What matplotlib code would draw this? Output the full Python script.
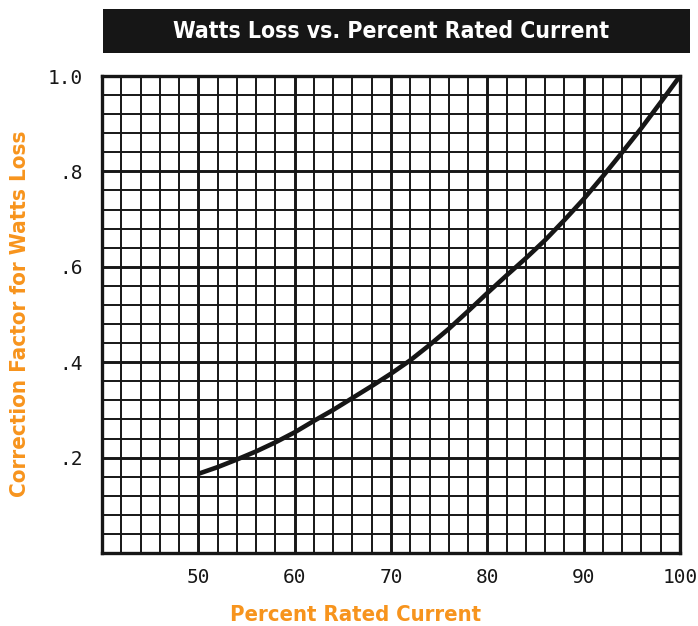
import matplotlib
matplotlib.use("Agg")
import matplotlib.pyplot as plt
import matplotlib.patches as patches
from matplotlib.ticker import MultipleLocator, FixedLocator

# Data
current_pct = [50, 52, 54, 56, 58, 60, 62, 64, 66, 68, 70, 72, 74, 76, 78,
               80, 82, 84, 86, 88, 90, 92, 94, 96, 98, 100]
watts_factor = [0.166, 0.180, 0.196, 0.213, 0.232, 0.253, 0.277, 0.300, 0.325,
                0.350, 0.376, 0.404, 0.436, 0.470, 0.507, 0.545, 0.582, 0.618,
                0.656, 0.698, 0.742, 0.790, 0.840, 0.891, 0.945, 1.000]
x_ticks = [50, 60, 70, 80, 90, 100]
x_labels = ["50", "60", "70", "80", "90", "100"]
y_ticks = [0.2, 0.4, 0.6, 0.8, 1.0]
y_labels = [".2", ".4", ".6", ".8", "1.0"]

title = "Watts Loss vs. Percent Rated Current"
xlabel = "Percent Rated Current"
ylabel = "Correction Factor for Watts Loss"

W, H = 698, 626
fig = plt.figure(figsize=(W / 100, H / 100), dpi=100)
ax = fig.add_axes([102 / W, (H - 553) / H, (680 - 102) / W, (553 - 76) / H])

orange = "#F7941D"
ink = "#161616"

ax.set_xlim(40, 100)
ax.set_ylim(0, 1.0)

ax.xaxis.set_major_locator(FixedLocator(x_ticks))
ax.yaxis.set_major_locator(FixedLocator(y_ticks))
ax.xaxis.set_minor_locator(MultipleLocator(2))
ax.yaxis.set_minor_locator(MultipleLocator(0.04))
ax.set_xticklabels(x_labels)
ax.set_yticklabels(y_labels)

ax.grid(which="minor", color=ink, linewidth=1.4)
ax.grid(which="major", color=ink, linewidth=2.1)
ax.set_axisbelow(True)
ax.tick_params(which="both", length=0)
ax.tick_params(axis="x", pad=11, labelsize=14)
ax.tick_params(axis="y", pad=14, labelsize=14)
for lab in ax.get_xticklabels() + ax.get_yticklabels():
    lab.set_family("DejaVu Sans Mono")
    lab.set_color(ink)
for sp in ax.spines.values():
    sp.set_linewidth(2.4)
    sp.set_color(ink)

ax.plot(current_pct, watts_factor, color=ink, linewidth=3.3,
        solid_capstyle="butt", zorder=5)

fig.text(356 / W, (H - 615) / H, xlabel, color=orange, fontsize=15.8,
         fontweight="bold", fontstretch="condensed", family="DejaVu Sans",
         ha="center", va="center")
fig.text(20 / W, (H - 314) / H, ylabel, color=orange, fontsize=16,
         fontweight="bold", fontstretch="condensed", family="DejaVu Sans",
         ha="center", va="center", rotation=90)

# Title bar
rect = patches.Rectangle((103 / W, (H - 53) / H), (690 - 103) / W, 44 / H,
                         transform=fig.transFigure, facecolor=ink,
                         edgecolor="none")
fig.patches.append(rect)
fig.text(391 / W, (H - 31) / H, title, color="white", fontsize=16.5,
         fontweight="bold", fontstretch="condensed", family="DejaVu Sans",
         ha="center", va="center")

fig.savefig("out.png", dpi=100)
